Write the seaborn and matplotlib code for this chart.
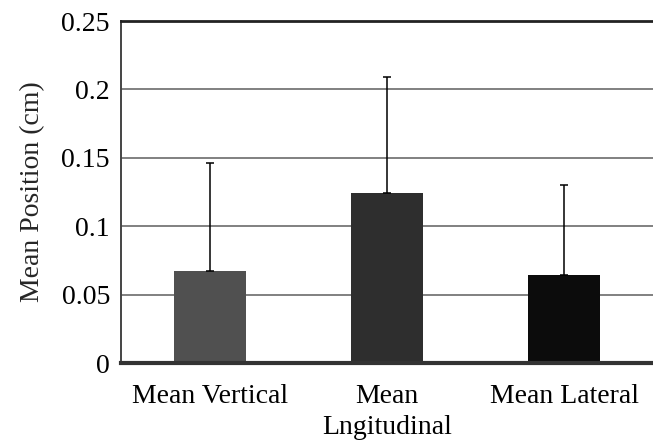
import matplotlib
matplotlib.use("Agg")
import matplotlib.pyplot as plt
import seaborn as sns
import pandas as pd

categories = ["Mean Vertical", "Mean\nLngitudinal", "Mean Lateral"]
means = [0.067, 0.124, 0.064]
errors = [0.079, 0.085, 0.066]
colors = ["#505050", "#2e2e2e", "#0c0c0c"]
yticks = [0, 0.05, 0.1, 0.15, 0.2, 0.25]
ytick_labels = ["0", "0.05", "0.1", "0.15", "0.2", "0.25"]

sns.set_style("white")
plt.rcParams["font.family"] = ["Liberation Serif", "DejaVu Serif"]

df = pd.DataFrame({"cat": categories, "val": means})

fig = plt.figure(figsize=(6.53, 4.40), dpi=100)
ax = fig.add_axes([0.1853, 0.175, 0.8147, 0.777])

for y in yticks[1:-1]:
    ax.axhline(y, color="#808080", lw=1.4, zorder=0)

sns.barplot(data=df, x="cat", y="val", hue="cat", palette=colors, width=0.405,
            legend=False, ax=ax, zorder=2, edgecolor="none")
ax.errorbar(range(len(categories)), means, yerr=[[0] * 3, errors], fmt="none",
            ecolor="black", elinewidth=1.1, capsize=3, capthick=1.1, zorder=3)

ax.set_xlim(-0.5, 2.5)
ax.set_ylim(0, 0.25)
ax.set_yticks(yticks)
ax.set_yticklabels(ytick_labels)
ax.set_xlabel("")
ax.set_ylabel("Mean Position (cm)", fontsize=20, labelpad=12)
ax.tick_params(axis="both", length=0, labelsize=20, colors="black")
ax.tick_params(axis="x", pad=15)
ax.tick_params(axis="y", pad=8)
for lbl in ax.get_xticklabels():
    lbl.set_linespacing(1.3)

ax.spines["right"].set_visible(False)
ax.spines["top"].set_color("#222222")
ax.spines["top"].set_linewidth(2)
ax.spines["left"].set_color("#444444")
ax.spines["left"].set_linewidth(1.4)
ax.spines["bottom"].set_color("#333333")
ax.spines["bottom"].set_linewidth(3)

fig.savefig("out.png", dpi=100)
